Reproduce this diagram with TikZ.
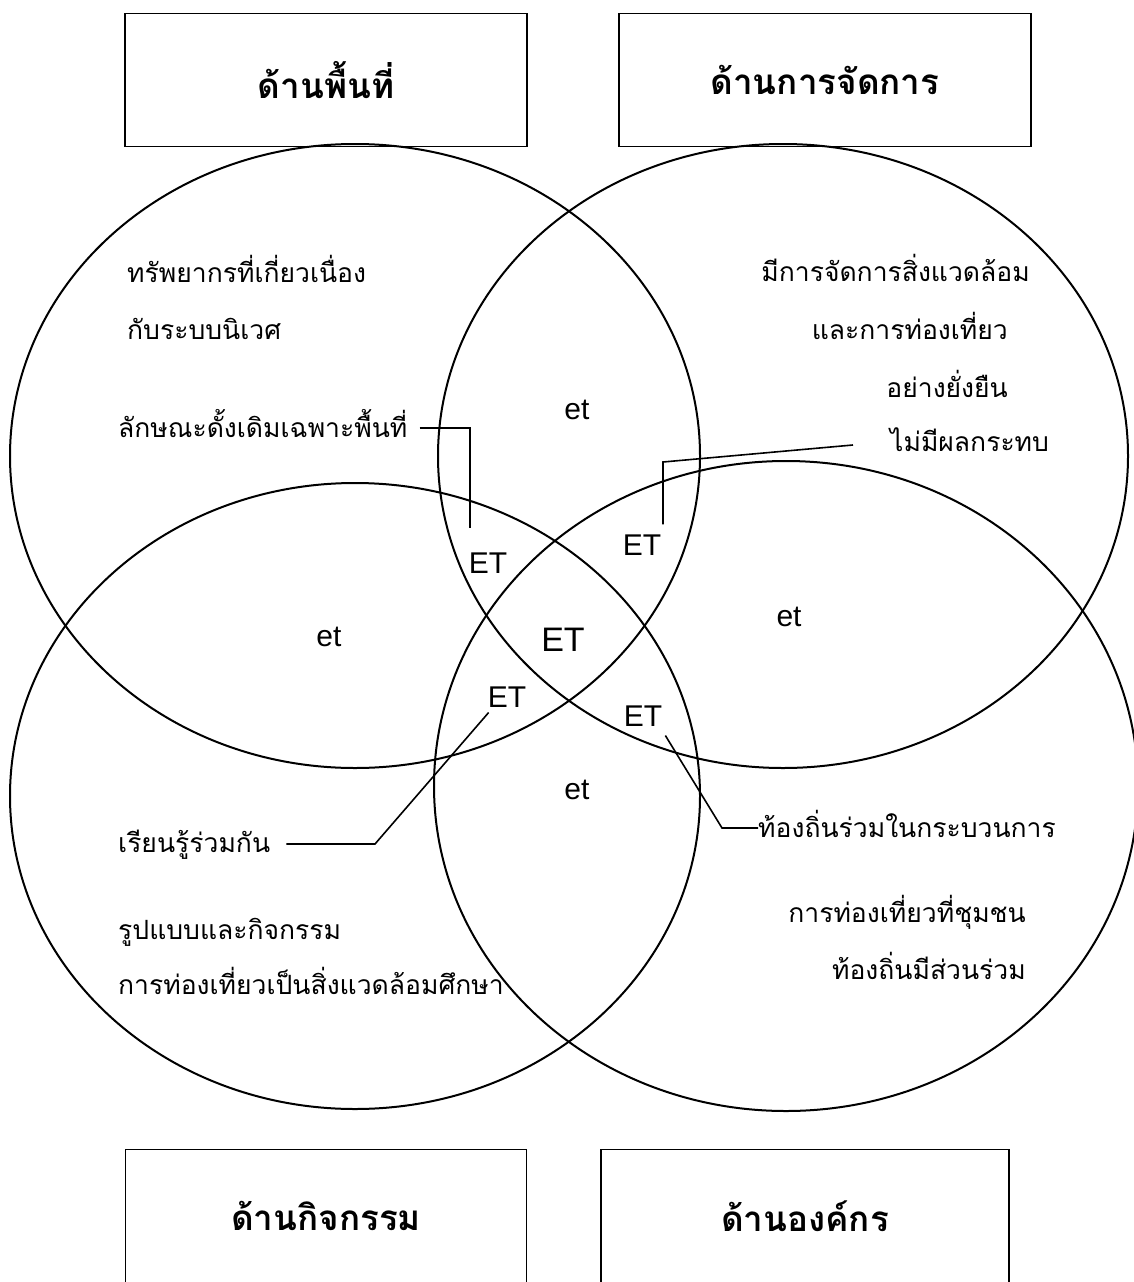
\documentclass[tikz,border=0pt]{standalone}
\usepackage{fontspec}
\setmainfont{Liberation Sans}
\newfontfamily\thaifont[Script=Thai]{Loma}
\usetikzlibrary{positioning,calc}

\begin{document}
\begin{tikzpicture}[x=1pt, y=-1pt,
  ring/.style={line width=2pt},
  headbox/.style={draw, line width=1.8pt, minimum height=133pt,
    font=\thaifont\bfseries\fontsize{35}{40}\selectfont},
  thtext/.style={font=\thaifont\fontsize{26.5}{30}\selectfont, inner sep=0pt},
  etlabel/.style={font=\fontsize{30}{34}\selectfont, inner sep=0pt},
  leader/.style={line width=1.6pt}]
  \useasboundingbox (0,0) rectangle (1133,1282);

  % the four aspects
  \node[headbox, minimum width=402pt] (area) at (326,80) {ด้านพื้นที่};
  \node[headbox, minimum width=412pt] (manage) at (825,80) {ด้านการจัดการ};
  \node[headbox, minimum width=401pt] (activity) at (326,1216) {ด้านกิจกรรม};
  \node[headbox, minimum width=408pt] (organize) at (805,1216) {ด้านองค์กร};

  % overlapping circles
  \draw[ring] (355,456) ellipse [x radius=345, y radius=312];
  \draw[ring] (783,456) ellipse [x radius=345, y radius=312];
  \draw[ring] (355,796) ellipse [x radius=345, y radius=313];
  \draw[ring] (786,786) ellipse [x radius=352, y radius=325];

  % texts in each circle
  \node[thtext, anchor=base west] (resA) at (127,282) {ทรัพยากรที่เกี่ยวเนื่อง};
  \node[thtext, anchor=base west] (resB) at (127,339) {กับระบบนิเวศ};
  \node[thtext, anchor=base west] (native) at (118,437) {ลักษณะดั้งเดิมเฉพาะพื้นที่};
  \node[thtext, anchor=base east] (mgmtA) at (1030,281) {มีการจัดการสิ่งแวดล้อม};
  \node[thtext, anchor=base east] (mgmtB) at (1008,339) {และการท่องเที่ยว};
  \node[thtext, anchor=base east] (mgmtC) at (1008,397) {อย่างยั่งยืน};
  \node[thtext, anchor=base west] (noimpact) at (890,451) {ไม่มีผลกระทบ};
  \node[thtext, anchor=base west] (learn) at (118,852) {เรียนรู้ร่วมกัน};
  \node[thtext, anchor=base west] (local) at (758,837) {ท้องถิ่นร่วมในกระบวนการ};
  \node[thtext, anchor=base west] (formA) at (118,939) {รูปแบบและกิจกรรม};
  \node[thtext, anchor=base west] (formB) at (118,994) {การท่องเที่ยวเป็นสิ่งแวดล้อมศึกษา};
  \node[thtext, anchor=base east] (commA) at (1026,922) {การท่องเที่ยวที่ชุมชน};
  \node[thtext, anchor=base east] (commB) at (1026,979) {ท้องถิ่นมีส่วนร่วม};

  % overlaps
  \node[etlabel] (twoTop) at (577,410) {et};
  \node[etlabel] (twoLeft) at (329,637) {et};
  \node[etlabel] (twoRight) at (789,617) {et};
  \node[etlabel] (twoBottom) at (577,790) {et};
  \node[etlabel] (etA) at (488,563) {ET};
  \node[etlabel] (etB) at (642,545) {ET};
  \node[etlabel] (etC) at (507,697) {ET};
  \node[etlabel] (etD) at (643,716) {ET};
  \node[etlabel, font=\fontsize{34}{38}\selectfont] (etAll) at (563,640) {ET};

  % leaders
  \coordinate (kinkA) at (470,428);
  \coordinate (kinkB) at (663,462);
  \coordinate (kinkC) at (375,844);
  \coordinate (kinkD) at (722,828);
  \draw[leader, shorten >=24pt] ($(native.east |- kinkA)+(12,0)$) -- (kinkA) -- (kinkA |- etA.north);
  \draw[leader, shorten >=10pt] ($(noimpact.west |- 0,445)+(-37,0)$) -- (kinkB) -- (kinkB |- etB.north);
  \draw[leader] ($(learn.east |- kinkC)+(16,0)$) -- (kinkC) -- ($(etC.south west)+(1,5)$);
  \draw[leader] (local.west |- kinkD) -- (kinkD) -- ($(etD.south east)+(3,9)$);
\end{tikzpicture}
\end{document}
